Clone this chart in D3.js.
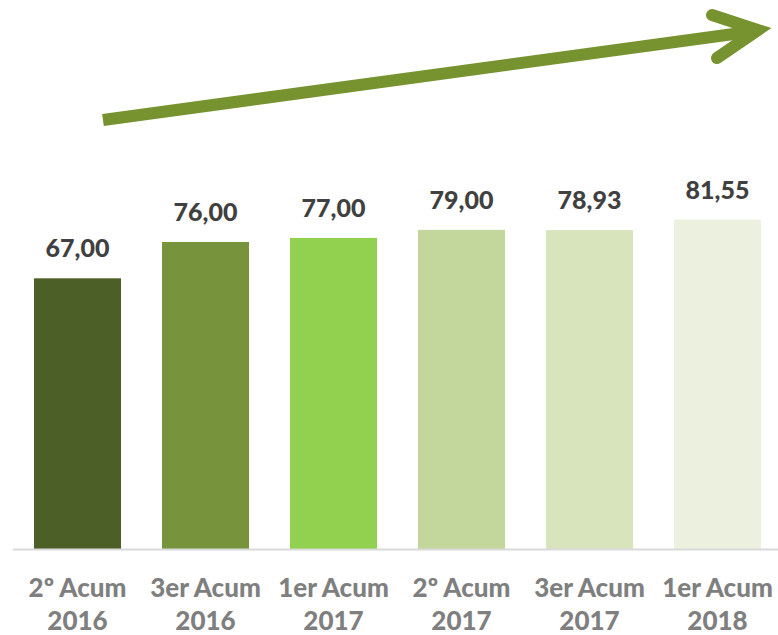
<!DOCTYPE html>
<html>
<head>
<meta charset="utf-8">
<script src="https://cdn.jsdelivr.net/npm/d3@7"></script>
<style>
  body { margin: 0; background: #fff; }
  text { font-family: Lato, "Open Sans", sans-serif; font-weight: 900; }
</style>
</head>
<body>
<script>
var width = 778;
var height = 635;

// data
var line1 = ["2º Acum", "3er Acum", "1er Acum", "2º Acum", "3er Acum", "1er Acum"];
var line2 = ["2016", "2016", "2017", "2017", "2017", "2018"];
var values = [67.00, 76.00, 77.00, 79.00, 78.93, 81.55];
var colors = ["#4b5f27", "#77933c", "#92d050", "#c3d69b", "#d8e4bc", "#ebf1de"];

var svg = d3.select("body").append("svg")
  .attr("width", width)
  .attr("height", height);

var baseY = 549;

var x = d3.scaleBand()
  .domain(d3.range(values.length))
  .range([13.5, 781.5])
  .paddingInner(0.32)
  .paddingOuter(0.16);

var y = d3.scaleLinear()
  .domain([0, 100])
  .range([baseY, baseY - 404]);

// bars
svg.selectAll("rect.bar")
  .data(values)
  .enter().append("rect")
  .attr("class", "bar")
  .attr("x", function(d, i) { return x(i); })
  .attr("y", function(d) { return y(d); })
  .attr("width", x.bandwidth())
  .attr("height", function(d) { return baseY - y(d); })
  .attr("fill", function(d, i) { return colors[i]; });

// baseline
svg.append("line")
  .attr("x1", 13).attr("x2", 778)
  .attr("y1", baseY + 0.5).attr("y2", baseY + 0.5)
  .attr("stroke", "#d9d9d9")
  .attr("stroke-width", 2);

// value labels
svg.selectAll("text.val")
  .data(values)
  .enter().append("text")
  .attr("class", "val")
  .attr("x", function(d, i) { return x(i) + x.bandwidth() / 2; })
  .attr("y", function(d) { return y(d) - 21; })
  .attr("text-anchor", "middle")
  .attr("fill", "#404040")
  .style("font-size", "25px")
  .text(function(d) { return d3.format(".2f")(d).replace(".", ","); });

// category labels (two lines)
var cat = svg.selectAll("g.cat")
  .data(line1)
  .enter().append("g")
  .attr("class", "cat")
  .attr("transform", function(d, i) { return "translate(" + (x(i) + x.bandwidth() / 2) + ",0)"; });

cat.append("text")
  .attr("y", 597)
  .attr("text-anchor", "middle")
  .attr("fill", "#7f7f7f")
  .style("font-size", "26px")
  .text(function(d) { return d; });

cat.append("text")
  .attr("y", 630)
  .attr("text-anchor", "middle")
  .attr("fill", "#7f7f7f")
  .style("font-size", "26px")
  .text(function(d, i) { return line2[i]; });

// trend arrow
var arrowColor = "#76932f";
svg.append("line")
  .attr("x1", 103).attr("y1", 120)
  .attr("x2", 752).attr("y2", 31.5)
  .attr("stroke", arrowColor)
  .attr("stroke-width", 12);

svg.append("path")
  .attr("d", "M712,15 L758,30 L717,58")
  .attr("fill", "none")
  .attr("stroke", arrowColor)
  .attr("stroke-width", 12)
  .attr("stroke-linecap", "round")
  .attr("stroke-linejoin", "miter");
</script>
</body>
</html>
